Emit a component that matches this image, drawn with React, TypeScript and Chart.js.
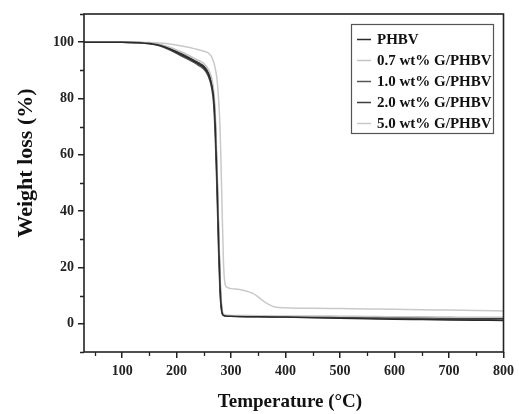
import React, { useEffect, useRef } from "react";
import { Chart, registerables } from "chart.js";
Chart.register(...registerables);

const FONT = "'Liberation Serif', 'Times New Roman', serif";

const xTitle = "Temperature (°C)";
const yTitle = "Weight loss (%)";

const xMajorTicks = [100, 200, 300, 400, 500, 600, 700, 800];
const xMinorTicks = [50, 150, 250, 350, 450, 550, 650, 750];
const yMajorTicks = [0, 20, 40, 60, 80, 100];
const yMinorTicks = [-10, 10, 30, 50, 70, 90, 110];

const seriesLabels = ["PHBV", "0.7 wt% G/PHBV", "1.0 wt% G/PHBV", "2.0 wt% G/PHBV", "5.0 wt% G/PHBV"];
const seriesColors = ["#2a2a2a", "#c4c4c4", "#555555", "#3c3c3c", "#c9c9c9"];

const tempsA = [30, 100, 130, 150, 170, 190, 210, 230, 240, 250, 258, 264, 268, 271, 274, 277, 280, 283, 286, 290, 300, 350, 400, 450, 500, 550, 600, 650, 700, 750, 800];
const phbv = [100, 100, 99.8, 99.5, 98.8, 97.3, 95.4, 93.4, 92.3, 91.0, 88.7, 85, 80, 70, 52, 30, 12, 4.5, 3.0, 2.8, 2.7, 2.5, 2.4, 2.2, 2.0, 1.8, 1.6, 1.5, 1.4, 1.3, 1.2];
const g07 = [100, 100, 99.9, 99.7, 99.2, 98.0, 96.4, 94.5, 93.5, 92.4, 90.4, 87.5, 83, 75, 58, 36, 16, 6, 3.5, 3.1, 3.0, 2.9, 2.8, 2.8, 2.7, 2.6, 2.5, 2.5, 2.4, 2.3, 2.3];
const g10 = [100, 100, 99.8, 99.4, 98.6, 97.0, 95.0, 93.0, 91.8, 90.4, 88.0, 84, 78, 66, 48, 26, 10, 4, 3.0, 2.9, 2.8, 2.6, 2.5, 2.3, 2.2, 2.0, 1.9, 1.7, 1.6, 1.5, 1.4];
const g20 = [100, 100, 99.9, 99.6, 99.0, 97.6, 95.8, 93.8, 92.7, 91.5, 89.3, 86, 81, 72, 55, 33, 14, 5, 3.2, 2.9, 2.8, 2.6, 2.5, 2.5, 2.4, 2.3, 2.2, 2.1, 2.0, 2.0, 2.0];

const temps50 = [30, 100, 150, 170, 190, 210, 230, 240, 250, 258, 265, 270, 274, 277, 280, 283, 286, 289, 292, 300, 315, 330, 340, 350, 360, 370, 380, 400, 450, 500, 550, 600, 650, 700, 750, 800];
const g50 = [100, 100, 99.9, 99.7, 99.3, 98.6, 97.8, 97.3, 96.8, 96.2, 94.5, 91.5, 87, 80, 68, 45, 22, 14, 13, 12.5, 12.2, 11.5, 10.8, 9.5, 8, 6.8, 6.0, 5.7, 5.5, 5.4, 5.3, 5.2, 5.0, 4.9, 4.7, 4.6];

const seriesTemps = [tempsA, tempsA, tempsA, tempsA, temps50];
const seriesValues = [phbv, g07, g10, g20, g50];

const decor = {
  id: "decor",
  afterDraw(chart: any) {
    const { ctx, chartArea: a, scales } = chart;
    const xs = scales.x;
    const ys = scales.y;
    ctx.save();
    ctx.strokeStyle = "#222";
    ctx.lineWidth = 1.6;
    ctx.strokeRect(a.left, a.top, a.right - a.left, a.bottom - a.top);
    ctx.lineWidth = 1.3;
    ctx.beginPath();
    for (const v of xMinorTicks) {
      const px = Math.round(xs.getPixelForValue(v)) + 0.5;
      ctx.moveTo(px, a.bottom);
      ctx.lineTo(px, a.bottom + 4);
    }
    for (const v of yMinorTicks) {
      const py = Math.round(ys.getPixelForValue(v)) + 0.5;
      ctx.moveTo(a.left, py);
      ctx.lineTo(a.left - 4, py);
    }
    ctx.stroke();

    ctx.fillStyle = "#111";
    ctx.textAlign = "center";
    ctx.textBaseline = "middle";
    ctx.font = `bold 19px ${FONT}`;
    ctx.fillText(xTitle, 290, 402);
    ctx.save();
    ctx.translate(26, 163);
    ctx.rotate(-Math.PI / 2);
    ctx.font = `bold 22px ${FONT}`;
    ctx.fillText(yTitle, 0, 0);
    ctx.restore();

    // legend
    const bx = 351, by = 24, bw = 142, bh = 109;
    ctx.strokeStyle = "#555";
    ctx.lineWidth = 1.2;
    ctx.strokeRect(bx + 0.5, by + 0.5, bw, bh);
    ctx.font = `bold 15px ${FONT}`;
    ctx.textAlign = "left";
    chart.data.datasets.forEach((ds: any, i: number) => {
      const y = 39 + i * 21;
      ctx.strokeStyle = ds.borderColor;
      ctx.lineWidth = 1.5;
      ctx.beginPath();
      ctx.moveTo(357, y + 0.5);
      ctx.lineTo(371, y + 0.5);
      ctx.stroke();
      ctx.fillStyle = "#111";
      ctx.fillText(ds.label, 377, y + 1);
    });
    ctx.restore();
  },
};

export default function App() {
  const ref = useRef<HTMLCanvasElement>(null);
  useEffect(() => {
    const datasets = seriesLabels.map((label, i) => ({
      label,
      data: seriesTemps[i].map((t, j) => ({ x: t, y: seriesValues[i][j] })),
      borderColor: seriesColors[i],
      backgroundColor: seriesColors[i],
      borderWidth: 1.5,
      pointRadius: 0,
      cubicInterpolationMode: "monotone" as const,
      fill: false,
    }));
    const chart = new Chart(ref.current!, {
      type: "line",
      data: { datasets },
      plugins: [decor],
      options: {
        responsive: false,
        animation: false,
        devicePixelRatio: 1,
        layout: { padding: { top: 14, right: 12, left: 0, bottom: 0 } },
        plugins: { legend: { display: false }, tooltip: { enabled: false } },
        scales: {
          x: {
            type: "linear",
            min: 30,
            max: 800,
            afterBuildTicks: (s: any) => {
              s.ticks = xMajorTicks.map((v) => ({ value: v }));
            },
            afterFit: (s: any) => {
              s.height = 62;
            },
            ticks: {
              color: "#222",
              font: { family: FONT, size: 14, weight: "bold" },
              padding: 5,
              maxRotation: 0,
              autoSkip: false,
            },
            grid: { display: true, drawOnChartArea: false, drawTicks: true, tickLength: 6, color: "#222", lineWidth: 1.5 },
            border: { display: false },
          },
          y: {
            type: "linear",
            min: -10,
            max: 110,
            afterBuildTicks: (s: any) => {
              s.ticks = yMajorTicks.map((v) => ({ value: v }));
            },
            afterFit: (s: any) => {
              s.width = 84;
            },
            ticks: {
              color: "#222",
              font: { family: FONT, size: 14, weight: "bold" },
              padding: 4,
              autoSkip: false,
            },
            grid: { display: true, drawOnChartArea: false, drawTicks: true, tickLength: 6, color: "#222", lineWidth: 1.5 },
            border: { display: false },
          },
        },
      },
    });
    return () => chart.destroy();
  }, []);
  return (
    <div style={{ position: "absolute", left: 0, top: 0, width: 519, height: 414, background: "#fff" }}>
      <canvas ref={ref} width={519} height={414} style={{ width: 519, height: 414, display: "block" }} />
    </div>
  );
}
